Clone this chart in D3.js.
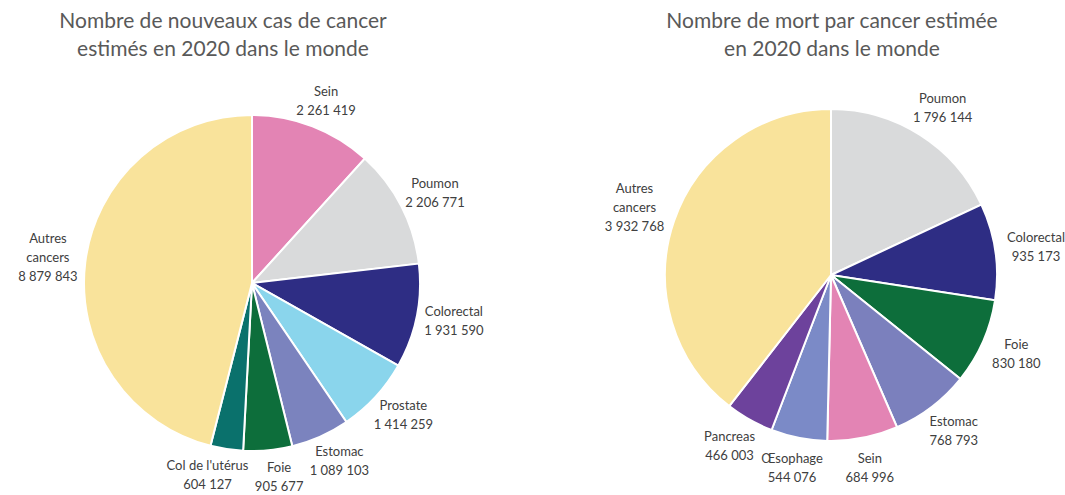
<!DOCTYPE html>
<html lang="fr">
<head>
    <meta charset="UTF-8">
    <title>Cancer 2020</title>
    <script src="https://d3js.org/d3.v7.min.js"></script>
    <style>
        body {
            margin: 0;
            background: #fff;
            font-family: Lato, "Open Sans", sans-serif;
        }
        .title {
            fill: #595959;
            font-size: 21px;
        }
        .lbl {
            fill: #404040;
            font-size: 13px;
        }
    </style>
</head>
<body>
    <div id="chart"></div>

    <script>
        // Nouveaux cas 2020
        const casCategories = ["Sein", "Poumon", "Colorectal", "Prostate", "Estomac", "Foie", "Col de l'utérus", "Autres cancers"];
        const casValues = [2261419, 2206771, 1931590, 1414259, 1089103, 905677, 604127, 8879843];
        const casColors = ["#e384b4", "#d9dadb", "#2e2d84", "#8ad5ec", "#7b83be", "#0d6e3b", "#0a716c", "#f9e39b"];

        // Décès 2020
        const mortCategories = ["Poumon", "Colorectal", "Foie", "Estomac", "Sein", "Œsophage", "Pancreas", "Autres cancers"];
        const mortValues = [1796144, 935173, 830180, 768793, 684996, 544076, 466003, 3932768];
        const mortColors = ["#d9dadb", "#2e2d84", "#0d6e3b", "#7b80bd", "#e384b4", "#7b8ac7", "#6d429c", "#f9e39b"];

        const width = 1065, height = 495;
        const fr = d3.formatLocale({decimal: ",", thousands: " ", grouping: [3], currency: ["", " €"]});
        const fmt = fr.format(",d");
        const lineH = 19;

        const svg = d3.select("#chart").append("svg")
            .attr("width", width)
            .attr("height", height);

        function drawPie(cfg) {
            const g = svg.append("g")
                .attr("transform", `translate(${cfg.cx},${cfg.cy})`);

            const data = cfg.categories.map((c, i) => ({name: c, value: cfg.values[i], color: cfg.colors[i]}));
            const pie = d3.pie().value(d => d.value).sort(null);
            const arcs = pie(data);
            const arc = d3.arc().innerRadius(0).outerRadius(cfg.r);

            g.selectAll("path")
                .data(arcs)
                .join("path")
                .attr("d", arc)
                .attr("fill", d => d.data.color)
                .attr("stroke", "#fff")
                .attr("stroke-width", 2);

            // étiquettes (placées hors du disque, style Excel)
            const lbl = g.selectAll("text.lbl")
                .data(arcs)
                .join("text")
                .attr("class", "lbl")
                .attr("text-anchor", "middle");

            const boxes = [];
            lbl.each(function(d) {
                const t = d3.select(this);
                const words = d.data.name === "Autres cancers" ? ["Autres", "cancers"] : [d.data.name];
                const lines = words.concat([fmt(d.data.value)]);
                const top = -(lines.length - 1) * lineH / 2 + 4;
                lines.forEach((l, i) => {
                    t.append("tspan").attr("x", 0).attr("y", top + i * lineH).text(l);
                });
                const bb = this.getBBox();
                const w = bb.width / 2, h = lines.length * lineH / 2;
                const a = (d.startAngle + d.endAngle) / 2;
                const ux = Math.sin(a), uy = -Math.cos(a);
                const R = cfg.r + cfg.pad;
                boxes.push({el: t, x: R * ux + ux * w, y: R * uy + uy * h, w: w, h: h});
            });

            // petites collisions : on écarte horizontalement
            for (let k = 0; k < 20; k++) {
                for (let i = 0; i < boxes.length; i++) {
                    for (let j = i + 1; j < boxes.length; j++) {
                        const A = boxes[i], B = boxes[j];
                        const ox = A.w + B.w + 6 - Math.abs(A.x - B.x);
                        const oy = A.h + B.h - Math.abs(A.y - B.y);
                        if (ox > 0 && oy > 0) {
                            const s = A.x < B.x ? -1 : 1;
                            A.x += s * ox / 2;
                            B.x -= s * ox / 2;
                        }
                    }
                }
            }
            boxes.forEach(b => b.el.attr("transform", `translate(${b.x},${b.y})`));

            // titre
            const tt = svg.append("text")
                .attr("class", "title")
                .attr("text-anchor", "middle");
            cfg.title.forEach((l, i) => {
                tt.append("tspan").attr("x", cfg.tx).attr("y", 28 + i * 28).text(l);
            });
        }

        drawPie({
            cx: 252, cy: 283, r: 168, pad: 8, tx: 223,
            categories: casCategories, values: casValues, colors: casColors,
            title: ["Nombre de nouveaux cas de cancer", "estimés en 2020 dans le monde"]
        });

        drawPie({
            cx: 831, cy: 275, r: 166, pad: 12, tx: 832,
            categories: mortCategories, values: mortValues, colors: mortColors,
            title: ["Nombre de mort par cancer estimée", "en 2020 dans le monde"]
        });
    </script>
</body>
</html>
